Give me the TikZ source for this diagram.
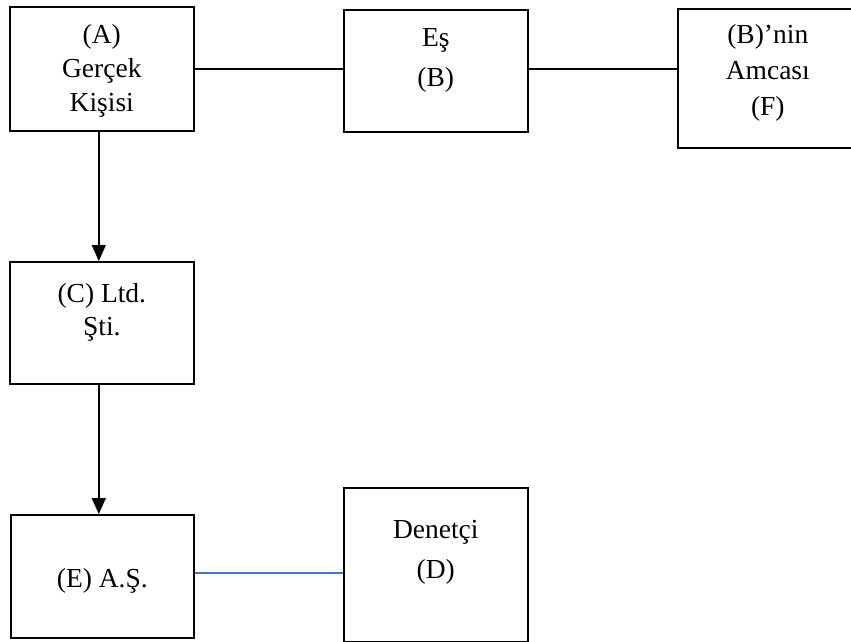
\documentclass[tikz,border=0pt]{standalone}
\usepackage{fontspec}
\setmainfont{Liberation Serif}
\usetikzlibrary{arrows.meta,positioning}
\definecolor{baglantiMavi}{RGB}{68,114,196}

\begin{document}
\begin{tikzpicture}[x=1pt,y=-1pt,
  kutu/.style={draw, line width=1.6pt, anchor=north west, inner sep=0pt,
    minimum width=184pt},
  metin/.style={align=center, inner sep=0pt, font=\fontsize{27.5}{#1}\selectfont},
  metin/.default=35,
  bag/.style={line width=1.5pt}]
\useasboundingbox (0,0) rectangle (851,642);
\clip (0,0) rectangle (851,642);

% kutular
\node[kutu, minimum height=124pt] (A) at (9,6) {};
\node[kutu, minimum height=122pt] (B) at (343,9) {};
\node[kutu, minimum width=180pt, minimum height=139pt] (F) at (677,8) {};
\node[kutu, minimum height=122pt] (C) at (9,261) {};
\node[kutu, minimum width=183pt, minimum height=123pt] (E) at (10,514) {};
\node[kutu, minimum height=154pt] (D) at (343,487) {};

% yazilar
\node[metin=34, below=18pt of A.north] (Ay) {(A)\\Gerçek\\Kişisi};
\node[metin=40, below=19pt of B.north] (By) {Eş\\(B)};
\node[metin=36, below=16pt of F.north] (Fy) {(B)’nin\\Amcası\\(F)};
\node[metin=33, below=22pt of C.north] (Cy) {(C) Ltd.\\Şti.};
\node[metin, below=54pt of E.north] (Ey) {(E) A.Ş.};
\node[metin=40, below=33pt of D.north] (Dy) {Denetçi\\(D)};

% baglantilar
\draw[bag] (A.east) -- (A.east -| B.west);
\draw[bag] (A.east -| B.east) -- (A.east -| F.west);
\draw[bag, -{Triangle[width=14pt,length=16pt]}] ([xshift=-3pt]A.south) -- ([xshift=-3pt]C.north);
\draw[bag, -{Triangle[width=14pt,length=16pt]}] ([xshift=-3pt]C.south) -- ([xshift=-3pt]C.south |- E.north);
\draw[baglantiMavi, line width=1.6pt] ([yshift=3.5pt]E.east) -- ([yshift=3.5pt]E.east -| D.west);
\end{tikzpicture}
\end{document}
